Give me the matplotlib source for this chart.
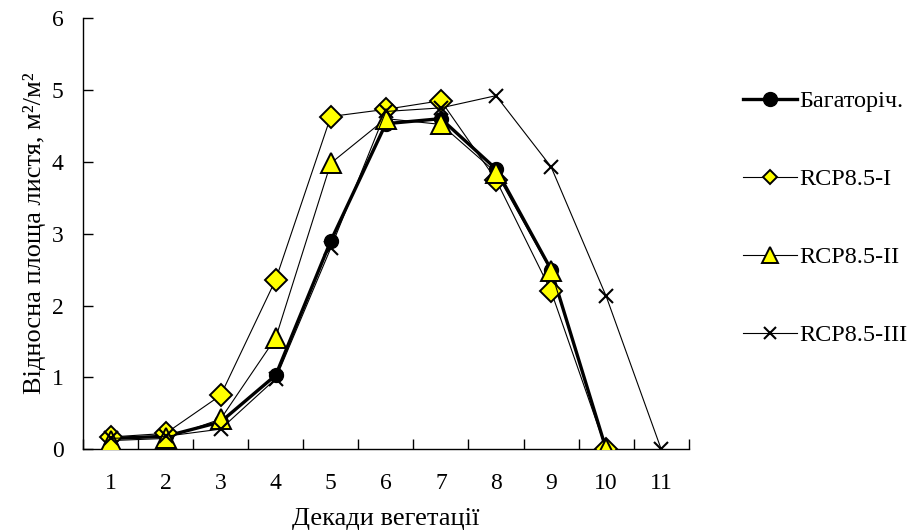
import matplotlib
matplotlib.use("Agg")
import matplotlib.pyplot as plt
from matplotlib.lines import Line2D

plt.rcParams['font.family'] = ['Liberation Serif', 'DejaVu Serif']

decades = [1, 2, 3, 4, 5, 6, 7, 8, 9, 10, 11]
base = [0.15, 0.18, 0.38, 1.03, 2.9, 4.53, 4.6, 3.9, 2.5, 0.0]
rcp1 = [0.17, 0.22, 0.75, 2.36, 4.63, 4.73, 4.85, 3.75, 2.2, 0.0]
rcp2 = [0.12, 0.15, 0.42, 1.55, 3.98, 4.6, 4.52, 3.85, 2.48, 0.0]
rcp3 = [0.15, 0.18, 0.28, 0.98, 2.8, 4.7, 4.75, 4.92, 3.93, 2.13, 0.0]
labels = ['Багаторіч.', 'RCP8.5-I', 'RCP8.5-II', 'RCP8.5-III']

YEL = '#FFFF00'
styles = [
    dict(color='black', lw=2.4, marker='o', mfc='black', mec='black', mew=1.0),
    dict(color='black', lw=0.8, marker='D', mfc=YEL, mec='black', mew=1.4),
    dict(color='black', lw=0.8, marker='^', mfc=YEL, mec='black', mew=1.4),
    dict(color='black', lw=0.8, marker='x', mfc='black', mec='black', mew=1.5),
]
plot_ms = [10, 11, 15, 9.5]
leg_ms = [10, 7, 11, 8]
series = [base, rcp1, rcp2, rcp3]

fig = plt.figure(figsize=(9.22, 5.31), dpi=100)
ax = fig.add_axes([0.09, 0.154, 0.657, 0.812])

for i, (vals, st) in enumerate(zip(series, styles)):
    ax.plot(decades[:len(vals)], vals, ms=plot_ms[i], zorder=3 + i, **st)

ax.set_xlim(0.5, 11.5)
ax.set_ylim(0, 6)
ax.set_xticks(decades)
ax.set_xticks([d - 0.5 for d in decades] + [11.5], minor=True)
ax.tick_params(axis='x', which='major', length=0, labelsize=17, pad=17)
ax.tick_params(axis='x', which='minor', direction='in', length=7, width=1)
ax.set_yticks([0, 1, 2, 3, 4, 5, 6])
ax.tick_params(axis='y', direction='in', length=7, width=1, labelsize=17, pad=14)

for s in ['top', 'right']:
    ax.spines[s].set_visible(False)
for s in ['left', 'bottom']:
    ax.spines[s].set_linewidth(1)

ax.set_ylabel('Відносна площа листя, м²/м²', fontsize=19, labelpad=4)
ax.set_xlabel('Декади вегетації', fontsize=19, labelpad=10)

handles = [Line2D([], [], ms=leg_ms[i], **st) for i, st in enumerate(styles)]
leg = fig.legend(handles, labels, loc='upper left', bbox_to_anchor=(0.806, 0.830),
                 frameon=False, fontsize=17.5, handlelength=2.2, labelspacing=2.3,
                 handletextpad=0.1, borderaxespad=0, borderpad=0)

fig.savefig('out.png', dpi=100)
